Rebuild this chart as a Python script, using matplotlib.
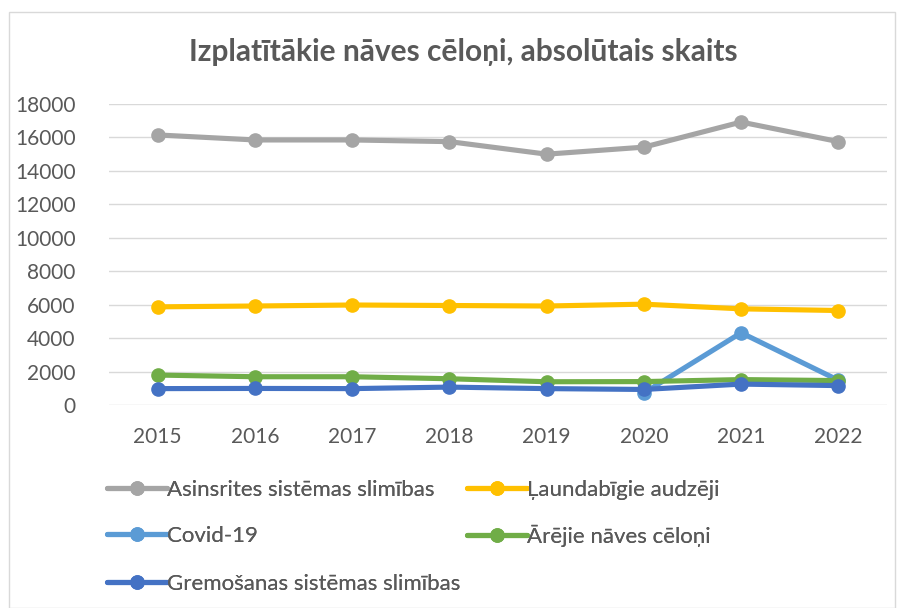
import numpy as np
import matplotlib
matplotlib.use("Agg")
import matplotlib.pyplot as plt
from matplotlib.patches import Rectangle

plt.rcParams['font.family'] = ['Lato', 'DejaVu Sans']

years = ["2015", "2016", "2017", "2018", "2019", "2020", "2021", "2022"]
asinsrites = [16150, 15850, 15850, 15750, 15000, 15420, 16920, 15750]
laundabigie = [5870, 5920, 5980, 5950, 5920, 6030, 5750, 5650]
covid = [np.nan, np.nan, np.nan, np.nan, np.nan, 720, 4320, 1480]
arejie = [1790, 1690, 1690, 1570, 1390, 1400, 1520, 1460]
gremosanas = [980, 990, 980, 1070, 980, 930, 1250, 1160]

series = [
    ("Asinsrites sistēmas slimības", asinsrites, "#A5A5A5"),
    ("Ļaundabīgie audzēji", laundabigie, "#FFC000"),
    ("Covid-19", covid, "#5B9BD5"),
    ("Ārējie nāves cēloņi", arejie, "#70AD47"),
    ("Gremošanas sistēmas slimības", gremosanas, "#4472C4"),
]

W, H = 906, 608
fig = plt.figure(figsize=(W / 100, H / 100), dpi=100)
fig.patches.append(Rectangle((9 / W, 0), 886 / W, 1 - 12 / H, transform=fig.transFigure,
                             fill=False, edgecolor="#D9D9D9", linewidth=1.0))
ax = fig.add_axes([109 / W, 1 - 405 / H, 778 / W, 301 / H])

x = np.arange(len(years))
handles = {}
for name, vals, col in series:
    h, = ax.plot(x, vals, color=col, linewidth=3.7, marker='o', markersize=9.5,
                 solid_capstyle='round', label=name)
    handles[name] = h

ax.set_xlim(-0.5, len(years) - 0.5)
ax.set_ylim(0, 18000)
ax.set_yticks(np.arange(0, 18001, 2000))
ax.set_xticks(x)
ax.set_xticklabels(years)
ax.grid(axis='y', color="#D9D9D9", linewidth=1.0)
ax.set_axisbelow(True)
for s in ax.spines.values():
    s.set_visible(False)
ax.tick_params(axis='both', length=0, labelsize=15, colors="#595959")
ax.tick_params(axis='y', pad=24)
ax.tick_params(axis='x', pad=16)

fig.text(463 / W, 1 - 52 / H, "Izplatītākie nāves cēloņi, absolūtais skaits",
         ha='center', va='center', fontsize=21.5, fontweight='bold', color="#595959")

# legend entries, placed one by one (row-major, 2 columns)
legend_pos = [
    ("Asinsrites sistēmas slimības", 107, 490),
    ("Ļaundabīgie audzēji", 467, 490),
    ("Covid-19", 107, 536),
    ("Ārējie nāves cēloņi", 467, 536),
    ("Gremošanas sistēmas slimības", 107, 584),
]
for name, px, py in legend_pos:
    leg = fig.legend([handles[name]], [name], loc='center left',
                     bbox_to_anchor=(px / W, 1 - py / H), frameon=False,
                     fontsize=16, handlelength=2.7, handletextpad=0.0, borderpad=0,
                     borderaxespad=0)
    for t in leg.get_texts():
        t.set_color("#595959")
    fig.add_artist(leg)

fig.savefig("out.png", dpi=100)
